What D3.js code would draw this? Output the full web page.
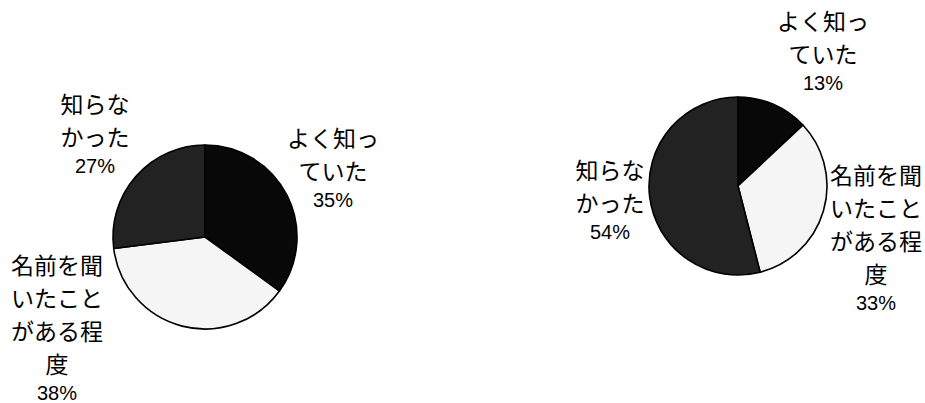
<!DOCTYPE html>
<html>
<head>
<meta charset="utf-8">
<script src="https://cdn.jsdelivr.net/npm/d3@7"></script>
<style>
  body { margin: 0; background: #fff; }
  .lab { font-family: "Noto Sans CJK JP", sans-serif; font-size: 23px; fill: #000; }
  .pct { font-family: "Liberation Sans", Arial, sans-serif; font-size: 20px; fill: #000; }
</style>
</head>
<body>
<div id="chart"></div>
<script>
const categories = ["よく知っていた", "名前を聞いたことがある程度", "知らなかった"];
const labelLines = [["よく知っ", "ていた"], ["名前を聞", "いたこと", "がある程", "度"], ["知らな", "かった"]];
const leftValues  = [35, 38, 27];
const rightValues = [13, 33, 54];
const sliceColors = ["#080808", "#f5f5f5", "#222222"];

const width = 925, height = 403;
const lineGap = 33, pctGap = 30;

const svg = d3.select("#chart")
  .append("svg")
  .attr("width", width)
  .attr("height", height);

// pie layout: centre, radius and label centres (x, first line y) per slice
const pies = [
  { values: leftValues,  cx: 205, cy: 237, r: 92,
    labels: [[333, 137], [57, 264], [95, 103]] },
  { values: rightValues, cx: 738, cy: 186, r: 89,
    labels: [[823, 20], [876, 174], [610, 169]] }
];

const color = d3.scaleOrdinal().domain(categories).range(sliceColors);
const pie = d3.pie().sort(null).value(d => d.value);

pies.forEach(p => {
  const rows = categories.map((c, i) => ({ cat: c, value: p.values[i], i }));
  const arc = d3.arc().innerRadius(0).outerRadius(p.r);

  const g = svg.append("g")
    .attr("transform", `translate(${p.cx}, ${p.cy})`);

  g.selectAll("path")
    .data(pie(rows))
    .join("path")
      .attr("d", arc)
      .attr("fill", d => color(d.data.cat))
      .attr("stroke", "#000")
      .attr("stroke-width", 1.6)
      .attr("stroke-linejoin", "round");

  rows.forEach(d => {
    const [lx, ly] = p.labels[d.i];
    const lines = labelLines[d.i];
    const lg = svg.append("g");
    lines.forEach((t, k) => {
      lg.append("text")
        .attr("class", "lab")
        .attr("x", lx)
        .attr("y", ly + k * lineGap)
        .attr("text-anchor", "middle")
        .attr("dominant-baseline", "central")
        .text(t);
    });
    lg.append("text")
      .attr("class", "pct")
      .attr("x", lx)
      .attr("y", ly + (lines.length - 1) * lineGap + pctGap)
      .attr("text-anchor", "middle")
      .attr("dominant-baseline", "central")
      .text(d.value + "%");
  });
});
</script>
</body>
</html>
